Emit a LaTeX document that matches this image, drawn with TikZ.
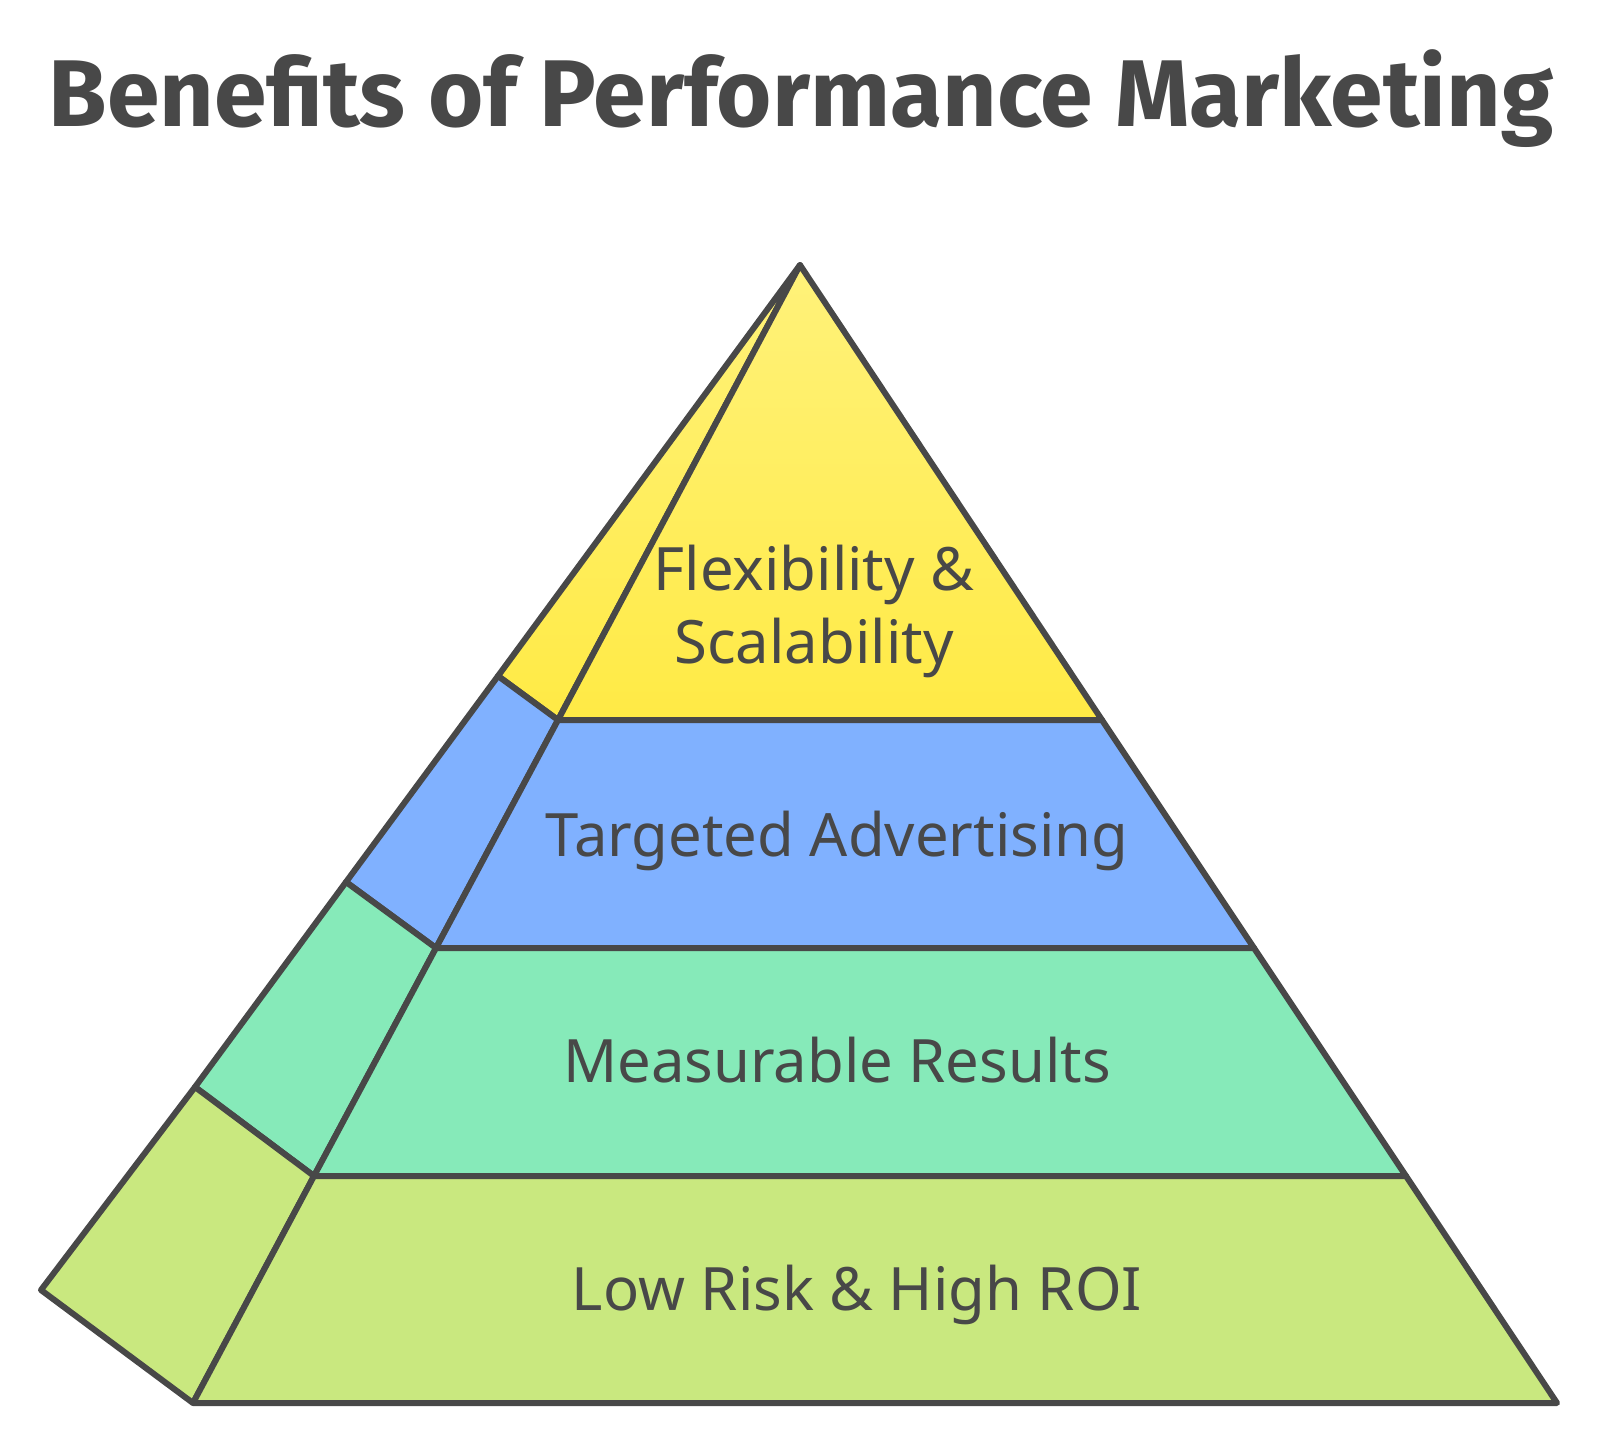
\documentclass[tikz,border=0pt]{standalone}
\usepackage{fontspec}
\setmainfont{Noto Sans}
\newfontfamily\titlefont{Fira Sans}
\definecolor{edgegray}{HTML}{484848}
\definecolor{layerlime}{HTML}{C9E87F}
\definecolor{layergreen}{HTML}{86EAB9}
\definecolor{layerblue}{HTML}{80B1FF}
\definecolor{layeryellowtop}{HTML}{FFF27A}
\definecolor{layeryellowbot}{HTML}{FFEA45}
\begin{document}
\begin{tikzpicture}[x=0.5pt, y=-0.5pt, line width=3pt, line join=round]

\useasboundingbox (0,0) rectangle (1600,1446); %% page

\tikzset{
  face/.style={draw=edgegray},
  tiertext/.style={text=edgegray, anchor=base, inner sep=0pt,
    font=\fontsize{29.9}{36}\selectfont},
}

% front edge points
\coordinate (top) at (800,265);
\coordinate (f1) at (558,720);  \coordinate (r1) at (1102,720);
\coordinate (f2) at (436,948);  \coordinate (r2) at (1254,948);
\coordinate (f3) at (314,1176); \coordinate (r3) at (1406,1176);
\coordinate (f4) at (193,1403); \coordinate (r4) at (1557,1403);
% back edge points
\coordinate (b1) at (498,676);
\coordinate (b2) at (346,882);
\coordinate (b3) at (195,1087);
\coordinate (b4) at (41,1290);

% side faces
\draw[face, top color=layeryellowtop, bottom color=layeryellowbot]
  (top) -- (b1) -- (f1) -- cycle;
\draw[face, fill=layerblue] (b1) -- (b2) -- (f2) -- (f1) -- cycle;
\draw[face, fill=layergreen] (b2) -- (b3) -- (f3) -- (f2) -- cycle;
\draw[face, fill=layerlime] (b3) -- (b4) -- (f4) -- (f3) -- cycle;

% front faces
\draw[face, top color=layeryellowtop, bottom color=layeryellowbot]
  (top) -- (r1) -- (f1) -- cycle;
\draw[face, fill=layerblue] (f1) -- (r1) -- (r2) -- (f2) -- cycle;
\draw[face, fill=layergreen] (f2) -- (r2) -- (r3) -- (f3) -- cycle;
\draw[face, fill=layerlime] (f3) -- (r3) -- (r4) -- (f4) -- cycle;

\node[tiertext] (flex) at (814,590) {Flexibility \&};
\node[tiertext] (scale) at (814,663) {Scalability};
\node[tiertext] (target) at (837,856) {Targeted Advertising};
\node[tiertext] (measure) at (837,1082) {Measurable Results};
\node[tiertext] (lowrisk) at (857,1310) {Low Risk \& High ROI};

\node[text=edgegray, anchor=base, inner sep=0pt,
  font=\titlefont\bfseries\fontsize{47.4}{56}\selectfont] (title) at (801,126)
  {Benefits of Performance Marketing};

\end{tikzpicture}
\end{document}
